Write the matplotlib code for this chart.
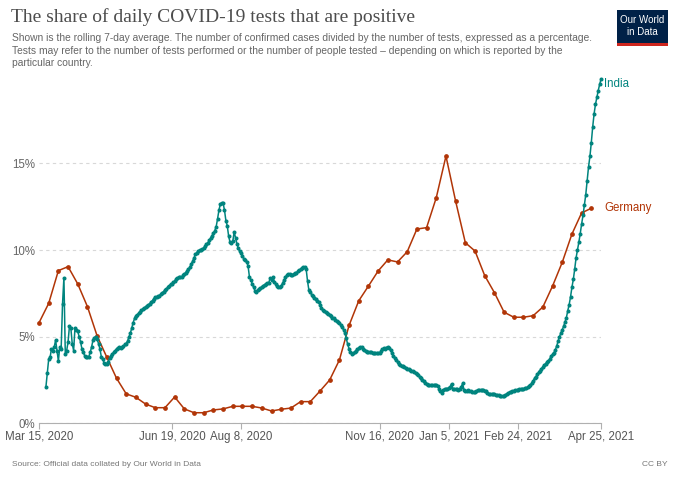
import pandas as pd
import numpy as np
import matplotlib
matplotlib.use('Agg')
import matplotlib.pyplot as plt
import matplotlib.dates as mdates
from matplotlib.patches import Rectangle

plt.rcParams['font.family'] = 'Liberation Sans'

# Germany: weekly share of positive tests (%), from Mar 15 2020
germany = [5.80, 6.92, 8.81, 9.04, 8.04, 6.73, 5.04, 3.81, 2.60, 1.70,
           1.50, 1.11, 0.90, 0.90, 1.52, 0.83, 0.61, 0.61, 0.77, 0.83,
           0.98, 0.98, 0.98, 0.88, 0.71, 0.81, 0.88, 1.25, 1.25, 1.86,
           2.50, 3.65, 5.65, 7.07, 7.92, 8.79, 9.43, 9.31, 9.90, 11.21,
           11.29, 13.02, 15.42, 12.81, 10.42, 9.94, 8.52, 7.54, 6.41, 6.12,
           6.12, 6.21, 6.71, 7.92, 9.29, 10.92, 12.14, 12.41]

# India: daily share of positive tests (%), ending Apr 25 2021
india = [
    2.1, 2.9, 3.7, 3.8, 4.3, 4.2, 4.4, 4.8, 4.2, 3.6,
    4.4, 4.3, 6.9, 8.4, 4.0, 4.2, 4.7, 5.6, 5.5, 4.6,
    4.2, 5.5, 5.4, 5.3, 5.0, 4.7, 4.3, 4.1, 3.9, 3.8,
    3.8, 3.85, 4.1, 4.4, 4.8, 4.95, 5.0, 4.85, 4.6, 4.3,
    3.85, 3.7, 3.5, 3.45, 3.45, 3.55, 3.75, 3.9, 4.0, 4.1,
    4.2, 4.3, 4.35, 4.4, 4.35, 4.4, 4.45, 4.55, 4.6, 4.75,
    5.0, 5.2, 5.5, 5.8, 6.05, 6.2,
    6.27, 6.35, 6.44, 6.53, 6.58, 6.66, 6.72, 6.79, 6.84, 6.90,
    7.0, 7.08, 7.2, 7.27, 7.31, 7.34, 7.37, 7.45, 7.53, 7.6,
    7.68, 7.76, 7.84, 7.92, 8.02, 8.06, 8.13, 8.2, 8.3, 8.4,
    8.42, 8.42, 8.42, 8.53, 8.6, 8.7, 8.8, 8.9, 9.0, 9.2,
    9.35, 9.55, 9.75, 9.84, 9.93, 10.0, 10.0, 10.05, 10.12, 10.22,
    10.32, 10.42, 10.55, 10.67, 10.82, 10.98, 11.12, 11.35, 11.8, 12.3,
    12.65, 12.73, 12.7, 12.3, 11.7, 11.4, 10.8, 10.45, 10.42, 10.5,
    11.05, 10.7, 10.35, 10.1, 9.92, 9.82, 9.65, 9.5, 9.4, 9.3,
    9.1,
    8.46, 8.27, 8.06, 7.85, 7.65, 7.6, 7.7, 7.75, 7.8, 7.87,
    7.95, 8.0, 8.06, 8.1, 8.12, 8.37, 8.27, 8.46, 8.15, 8.05,
    7.9, 7.85, 7.86, 7.95, 8.08, 8.25, 8.42, 8.55, 8.61, 8.6,
    8.56, 8.58, 8.61, 8.65, 8.68, 8.77, 8.83, 8.88, 8.95, 9.0,
    9.03, 8.9, 8.2, 7.67, 7.58, 7.42, 7.33, 7.25, 7.16, 7.07,
    6.98, 6.85, 6.68, 6.55, 6.48, 6.42, 6.35, 6.31, 6.27, 6.2,
    6.1, 6.05, 5.98, 5.9, 5.83, 5.76, 5.68, 5.55, 5.4, 5.2,
    4.9, 4.55, 4.3, 4.1, 4.0, 4.04, 4.1, 4.2, 4.27, 4.35,
    4.42, 4.4, 4.3, 4.22, 4.17, 4.13, 4.13, 4.13, 4.11, 4.08,
    4.07, 4.07, 4.07, 4.05, 4.06, 4.15, 4.28, 4.32, 4.27, 4.37,
    4.42, 4.35, 4.22, 4.05, 3.88, 3.78, 3.66, 3.55, 3.45, 3.35,
    3.31, 3.28, 3.24, 3.2, 3.15, 3.11, 3.07, 3.04, 3.0, 2.95,
    2.9, 2.87, 2.8, 2.7, 2.6, 2.52, 2.44, 2.35, 2.27, 2.22,
    2.21, 2.21, 2.2, 2.19, 2.19, 2.19, 2.15, 2.0, 1.88, 1.73,
    1.9, 2.0, 1.98, 1.98, 2.05, 2.11, 2.28, 2.0, 1.96, 1.96,
    1.96, 1.93, 2.0, 2.1, 2.3, 1.95, 1.88, 1.88, 1.91, 1.89,
    1.85, 1.82, 1.82, 1.82, 1.87, 1.91, 1.92, 1.92, 1.92, 1.92,
    1.89, 1.84, 1.77, 1.71, 1.69, 1.69, 1.69, 1.67, 1.65, 1.63,
    1.63, 1.59, 1.58, 1.58, 1.6, 1.65, 1.7, 1.76, 1.8, 1.82,
    1.85, 1.89, 1.92, 1.92, 1.95, 1.96, 1.96, 1.96, 1.97, 2.01,
    2.02, 2.07, 2.15, 2.2, 2.32, 2.45, 2.6, 2.7, 2.83, 2.94,
    3.04, 3.15, 3.25, 3.35, 3.45, 3.52, 3.6, 3.72, 3.88, 3.98,
    4.07, 4.25, 4.45, 4.75, 5.0, 5.2, 5.4, 5.6, 5.85, 6.1,
    6.5, 6.85, 7.3, 7.85, 8.3, 8.9, 9.55, 10.0, 10.45, 10.95,
    11.5, 12.0, 12.6, 13.2, 14.0, 14.8, 15.4, 16.2, 17.1, 17.85,
    18.4, 18.8, 19.2, 19.55, 19.85]

tick_dates = ['2020-03-15', '2020-06-19', '2020-08-08', '2020-11-16',
              '2021-01-05', '2021-02-24', '2021-04-25']
tick_labels = ['Mar 15, 2020', 'Jun 19, 2020', 'Aug 8, 2020', 'Nov 16, 2020',
               'Jan 5, 2021', 'Feb 24, 2021', 'Apr 25, 2021']
y_ticks = [0, 5, 10, 15]

ger_dates = pd.date_range('2020-03-15', periods=len(germany), freq='7D')
ind_dates = pd.date_range(end='2021-04-25', periods=len(india), freq='D')

teal = '#00847E'
rust = '#B13507'

W, H = 680, 480
fig = plt.figure(figsize=(6.8, 4.8), dpi=100)

def px(x, y):
    return x / W, 1 - y / H

# plot area in pixels: left 39, right 601, top 79, bottom 423
ax = fig.add_axes([39 / W, 1 - 423.3 / H, 562 / W, (423.3 - 79.3) / H])

ax.plot(ind_dates, india, color=teal, lw=1.1, marker='o', ms=1.9, zorder=3, clip_on=False)
ax.plot(ger_dates, germany, color=rust, lw=1.1, marker='o', ms=2.4, zorder=2, clip_on=False)

ax.set_xlim(pd.Timestamp('2020-03-15'), pd.Timestamp('2021-04-25'))
ax.set_ylim(0, max(india))

ax.set_xticks(pd.to_datetime(tick_dates))
ax.set_xticklabels(tick_labels)
ax.set_yticks(y_ticks)
ax.set_yticklabels([f'{v}%' for v in y_ticks])

for s in ['top', 'right', 'left']:
    ax.spines[s].set_visible(False)
ax.spines['bottom'].set_color('#b0b0b0')
ax.spines['bottom'].set_linewidth(0.8)
ax.tick_params(axis='x', length=4, width=0.8, color='#b0b0b0', labelcolor='#555555',
               labelsize=8.3, pad=1.5)
ax.tick_params(axis='y', length=0, labelcolor='#666666', labelsize=8.3, pad=3)
ax.yaxis.grid(True, color='#d8d8d8', ls=(0, (3, 3)), lw=0.8)
ax.set_axisbelow(True)

# line labels
ax.annotate('India', xy=(1, india[-1] - 0.3), xycoords=('axes fraction', 'data'),
            xytext=(2.5, 0), textcoords='offset points', va='center', ha='left',
            color=teal, fontsize=8.3, annotation_clip=False)
ax.annotate('Germany', xy=(1, germany[-1]), xycoords=('axes fraction', 'data'),
            xytext=(2.5, 0), textcoords='offset points', va='center', ha='left',
            color=rust, fontsize=8.3, annotation_clip=False)

# title and subtitle
fig.text(*px(11, 17), 'The share of daily COVID-19 tests that are positive',
         family='Liberation Serif', fontsize=14, color='#4d4d4d', va='center')
subtitle = ['Shown is the rolling 7-day average. The number of confirmed cases divided by the number of tests, expressed as a percentage.',
            'Tests may refer to the number of tests performed or the number of people tested \u2013 depending on which is reported by the',
            'particular country.']
for i, line in enumerate(subtitle):
    fig.text(*px(12, 38 + 12.6 * i), line, fontsize=7.35, color='#666666', va='center')

# footer
fig.text(*px(12, 464), 'Source: Official data collated by Our World in Data',
         fontsize=6, color='#777777', va='center')
fig.text(*px(667, 464), 'CC BY', fontsize=6, color='#777777', va='center', ha='right')

# logo
fig.patches.append(Rectangle(px(617, 46), 51 / W, 36 / H, transform=fig.transFigure,
                             facecolor='#002147', edgecolor='none'))
fig.patches.append(Rectangle(px(617, 46), 51 / W, 3 / H, transform=fig.transFigure,
                             facecolor='#CE261E', edgecolor='none'))
fig.text(*px(642.5, 20), 'Our World', fontsize=7, color='white', ha='center', va='center')
fig.text(*px(642.5, 32), 'in Data', fontsize=7, color='white', ha='center', va='center')

fig.savefig('out.png', dpi=100)
